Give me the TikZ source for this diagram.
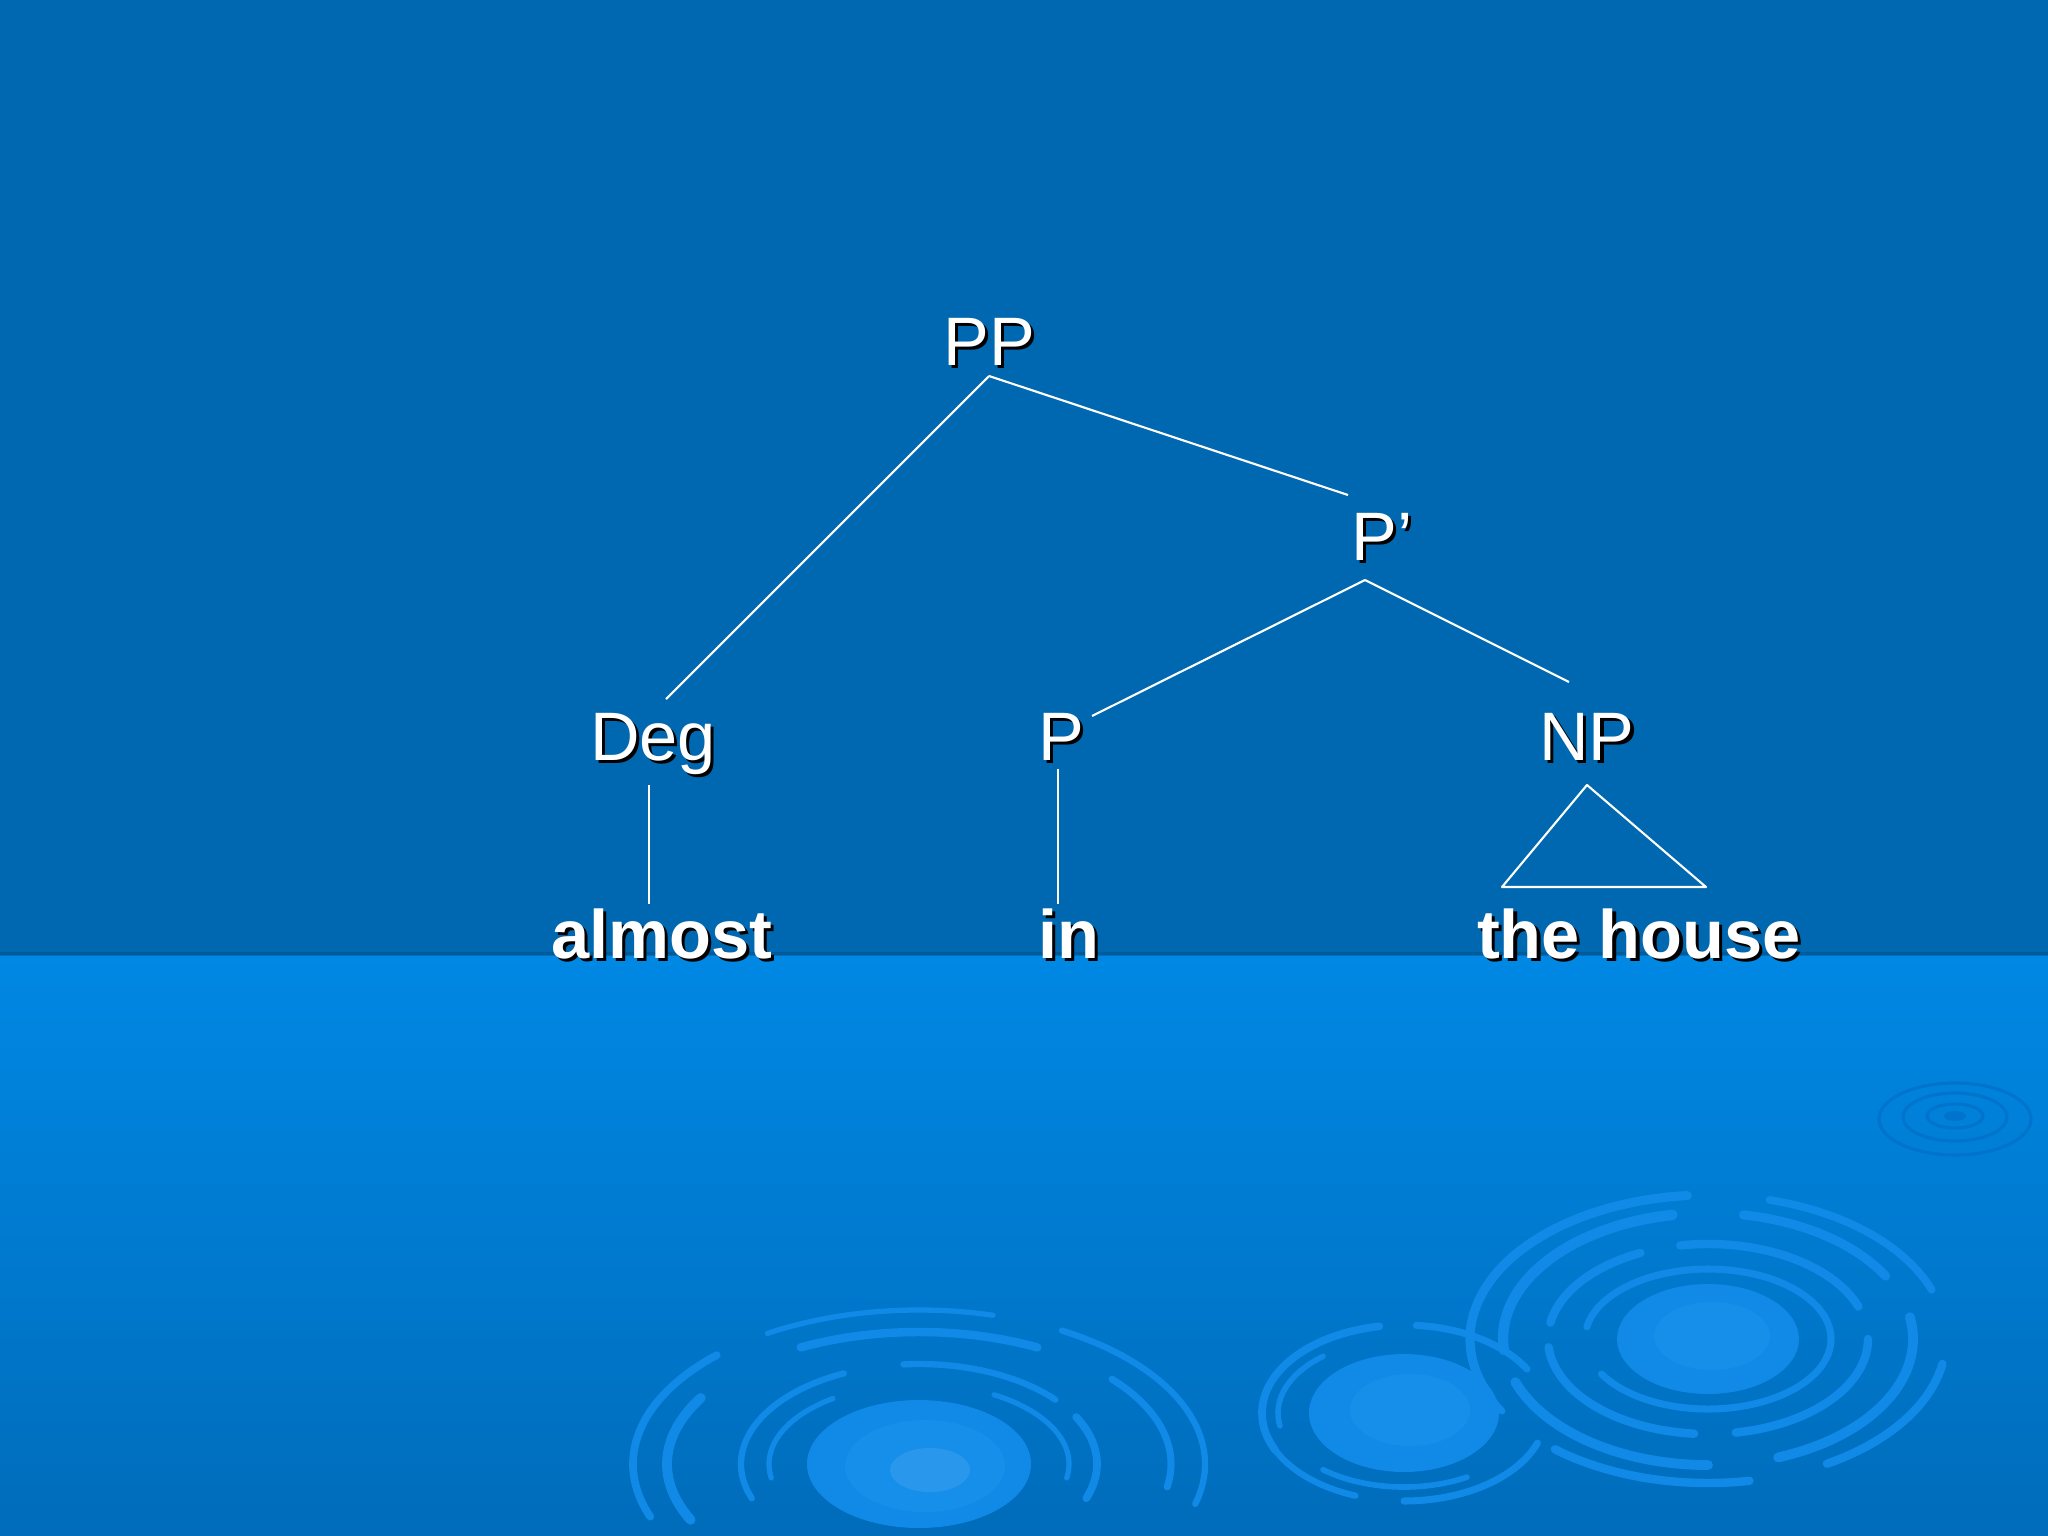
\documentclass[tikz,border=0pt]{standalone}
\usepackage{fontspec}
\setmainfont{Liberation Sans}
\definecolor{topbg}{RGB}{0,104,176}
\definecolor{bandtop}{RGB}{0,136,228}
\definecolor{bandbot}{RGB}{0,108,186}
\definecolor{rip}{RGB}{16,138,230}
\definecolor{ripin}{RGB}{22,143,234}
\definecolor{ripdark}{RGB}{0,116,204}
\newcommand{\shtxt}[1]{\makebox[0pt][l]{\hspace{0.9pt}\raisebox{-0.9pt}{\color{black}#1}}#1}
\newcommand{\rarc}[7]{\draw[ripline, line width=#7] (#1,#2) ++(#5:#3 and #4) arc[start angle=#5, end angle=#6, x radius=#3, y radius=#4];}
\tikzset{
  lbl/.style={text=white, inner sep=0pt, anchor=base, font=\fontsize{19.5}{23}\selectfont},
  word/.style={lbl, font=\fontsize{19.5}{23}\selectfont\bfseries},
  branch/.style={draw=white, line width=0.6pt},
  ripline/.style={draw=rip, line cap=round},
}
\begin{document}
\begin{tikzpicture}[x=0.01cm, y=-0.01cm]
\useasboundingbox (0,0) rectangle (2048,1536);
\fill[topbg] (0,0) rectangle (2048,955);
\shade[top color=bandtop, bottom color=bandbot] (0,955) rectangle (2048,1536);
\fill[black!30!topbg, opacity=0.4] (0,952) rectangle (2048,956);

\begin{scope}
\clip (0,955) rectangle (2048,1536);
% left ripple
\fill[rip] (919,1464) ellipse[x radius=112, y radius=64];
\fill[ripin] (925,1466) ellipse[x radius=80, y radius=46];
\fill[ripin!92!white] (930,1470) ellipse[x radius=40, y radius=22];
\rarc{919}{1464}{286}{154}{-200}{-135}{2.2pt}
\rarc{919}{1464}{286}{154}{-122}{-75}{1.5pt}
\rarc{919}{1464}{286}{154}{-60}{15}{1.8pt}
\rarc{919}{1464}{252}{132}{-205}{-150}{2.8pt}
\rarc{919}{1464}{252}{132}{-118}{-62}{2.4pt}
\rarc{919}{1464}{252}{132}{-40}{10}{2pt}
\rarc{919}{1464}{178}{100}{-200}{-115}{1.8pt}
\rarc{919}{1464}{178}{100}{-95}{-40}{1.8pt}
\rarc{919}{1464}{178}{100}{-28}{20}{2.2pt}
\rarc{919}{1464}{150}{80}{-190}{-125}{1.5pt}
\rarc{919}{1464}{150}{80}{-60}{10}{1.5pt}
% middle ripple
\fill[rip] (1404,1413) ellipse[x radius=95, y radius=59];
\fill[ripin] (1410,1410) ellipse[x radius=60, y radius=36];
\rarc{1404}{1413}{142}{88}{-205}{-100}{2.2pt}
\rarc{1404}{1413}{142}{88}{-85}{-30}{2pt}
\rarc{1404}{1413}{142}{88}{20}{90}{2pt}
\rarc{1404}{1413}{142}{88}{110}{165}{1.8pt}
\rarc{1404}{1413}{126}{74}{-190}{-130}{1.6pt}
\rarc{1404}{1413}{126}{74}{60}{130}{1.6pt}
% big right ripple
\fill[rip] (1708,1339) ellipse[x radius=91, y radius=55];
\fill[ripin] (1712,1336) ellipse[x radius=58, y radius=34];
\rarc{1708}{1339}{238}{144}{-200}{-95}{2.6pt}
\rarc{1708}{1339}{238}{144}{-75}{-20}{2.2pt}
\rarc{1708}{1339}{238}{144}{10}{60}{2.4pt}
\rarc{1708}{1339}{238}{144}{80}{130}{2.4pt}
\rarc{1708}{1339}{238}{144}{150}{175}{2pt}
\rarc{1708}{1339}{205}{126}{-185}{-100}{3pt}
\rarc{1708}{1339}{205}{126}{-80}{-30}{2.6pt}
\rarc{1708}{1339}{205}{126}{-10}{70}{2.8pt}
\rarc{1708}{1339}{205}{126}{90}{160}{2.8pt}
\rarc{1708}{1339}{160}{95}{-170}{-115}{2.4pt}
\rarc{1708}{1339}{160}{95}{-100}{-20}{2.4pt}
\rarc{1708}{1339}{160}{95}{0}{80}{2.4pt}
\rarc{1708}{1339}{160}{95}{95}{175}{2.4pt}
\rarc{1708}{1339}{123}{70}{-170}{150}{2pt}
% small top right ripple
\draw[ripdark, line width=0.9pt] (1955,1119) ellipse[x radius=76, y radius=36];
\draw[ripdark, line width=0.9pt] (1955,1117) ellipse[x radius=52, y radius=24];
\draw[ripdark, line width=0.9pt] (1955,1116) ellipse[x radius=28, y radius=12];
\fill[ripdark] (1955,1116) ellipse[x radius=11, y radius=5];
\end{scope}

% tree
\node[lbl] (pp) at (989,365) {\shtxt{PP}};
\node[lbl] (pbar) at (1382,560) {\shtxt{P’}};
\node[lbl] (deg) at (653,760) {\shtxt{Deg}};
\node[lbl] (p) at (1061,760) {\shtxt{P}};
\node[lbl] (np) at (1587,760) {\shtxt{NP}};
\node[word] (almost) at (662,958) {\shtxt{almost}};
\node[word] (in) at (1069,958) {\shtxt{in}};
\node[word] (house) at (1639,958) {\shtxt{the house}};

\coordinate (ppA) at (989,376);
\coordinate (pbarT) at (1348,495);
\coordinate (degT) at (666,699);
\coordinate (pbarA) at (1365,580);
\coordinate (pT) at (1092,716);
\coordinate (npT) at (1569,682);
\coordinate (degB) at (649,785);
\coordinate (almostT) at (649,904);
\coordinate (pB) at (1058,769);
\coordinate (inT) at (1058,904);
\coordinate (npA) at (1587,785);
\coordinate (npL) at (1502,887);
\coordinate (npR) at (1706,887);

\draw[branch] (ppA) -- (pbarT);
\draw[branch] (ppA) -- (degT);
\draw[branch] (pbarA) -- (pT);
\draw[branch] (pbarA) -- (npT);
\draw[branch] (degB) -- (almostT);
\draw[branch] (pB) -- (inT);
\draw[branch, line join=round] (npA) -- (npL) -- (npR) -- cycle;
\end{tikzpicture}
\end{document}
